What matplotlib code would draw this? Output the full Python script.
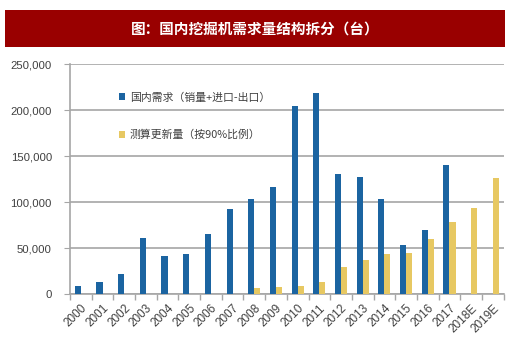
import matplotlib as mpl
mpl.use('Agg')
import matplotlib.pyplot as plt
from matplotlib.patches import Rectangle
from matplotlib.ticker import FuncFormatter, FixedLocator
import numpy as np

plt.rcParams['font.family'] = ['Liberation Sans', 'Noto Sans CJK SC', 'DejaVu Sans']

years = ["2000", "2001", "2002", "2003", "2004", "2005", "2006", "2007", "2008", "2009",
         "2010", "2011", "2012", "2013", "2014", "2015", "2016", "2017", "2018E", "2019E"]
domestic = [8500, 13000, 22000, 61000, 41000, 43000, 65000, 92000, 103000, 116000,
            204000, 218000, 130000, 127000, 103000, 53000, 70000, 140000, 0, 0]
renewal = [0, 0, 0, 0, 0, 0, 0, 0, 7000, 7300,
           8700, 13400, 29000, 37500, 44000, 45000, 60000, 78000, 93000, 126500]

blue = "#1b64a1"
yellow = "#e7c862"
grid_c = "#a6a6a6"
text_c = "#404040"

fig = plt.figure(figsize = (5.2, 3.55), dpi = 100)

# title banner
fig.patches.append(Rectangle((0.0096, 0.8676), 0.9615, 0.104, transform = fig.transFigure,
                             facecolor = "#990000", edgecolor = "none"))
fig.text(0.49, 0.919, "图：国内挖掘机需求量结构拆分（台）", color = "white", fontsize = 10.5,
         fontweight = "bold", ha = "center", va = "center",
         family = ['Noto Sans CJK SC', 'DejaVu Sans'])

ax = fig.add_axes([0.1346, 0.1718, 0.834, 0.6479])

x = np.arange(len(years))
w = 0.28
ax.bar(x - w / 2, domestic, w, color = blue, zorder = 3, label = "国内需求（销量+进口-出口）")
ax.bar(x + w / 2, renewal, w, color = yellow, zorder = 3, label = "测算更新量（按90%比例）")

ax.set_ylim(0, 250000)
ax.set_xlim(-0.5, len(years) - 0.5)
ax.set_yticks(np.arange(0, 250001, 50000))
ax.yaxis.set_major_formatter(FuncFormatter(lambda v, p: f"{int(v):,}"))
ax.yaxis.grid(True, color = grid_c, lw = 1.2, zorder = 0)

ax.xaxis.set_major_locator(FixedLocator(np.arange(-0.5, len(years), 1.0)))
ax.xaxis.set_minor_locator(FixedLocator(x))
ax.set_xticklabels([], minor = False)
ax.set_xticklabels(years, minor = True, rotation = 45, ha = "right", va = "top",
                   rotation_mode = "anchor")
ax.tick_params(axis = "x", which = "major", length = 4, color = grid_c, width = 1)
ax.tick_params(axis = "x", which = "minor", length = 0, pad = 6, labelsize = 8.5, labelcolor = text_c)
ax.tick_params(axis = "y", length = 4, color = grid_c, labelsize = 8.2, labelcolor = text_c, pad = 9)

for s in ["top", "right"]:
    ax.spines[s].set_visible(False)
for s in ["left", "bottom"]:
    ax.spines[s].set_color(grid_c)
    ax.spines[s].set_linewidth(1.2)

leg = ax.legend(loc = "upper left", bbox_to_anchor = (0.09, 0.92), frameon = False,
                handlelength = 0.6, handleheight = 0.6, handletextpad = 0.4,
                labelspacing = 2.5, prop = {"family": ['Noto Sans CJK SC', 'DejaVu Sans'], "size": 7.8})
for t in leg.get_texts():
    t.set_color(text_c)

fig.savefig("out.png", dpi = 100)
plt.close()
